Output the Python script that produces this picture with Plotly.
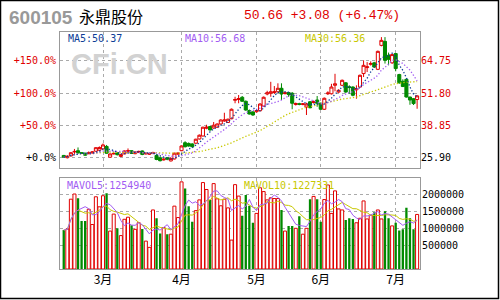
import plotly.graph_objects as go
import pandas as pd

# ---------------- data ----------------
month_labels = ['3月', '4月', '5月', '6月', '7月']
month_first_day = [11, 33, 54, 72, 93]   # trading-day index of first session of each month

open_p = [26.8, 25.9, 26.6, 28.2, 28.7, 27.9, 27.7, 27.5, 27.8, 28.5,
          28.9, 29.4, 30.4, 26.1, 27.4, 27.9, 26.4, 27.4, 28.5, 28.7,
          27.5, 28.0, 28.6, 27.4, 27.3, 27.6, 26.8, 25.9, 25.0, 25.9,
          24.6, 25.4, 27.3, 28.7, 31.9, 31.6, 31.4, 31.7, 33.4, 34.6,
          37.7, 38.4, 37.8, 38.1, 39.4, 40.6, 40.0, 41.5, 48.9, 49.2,
          50.1, 48.5, 44.8, 44.2, 44.3, 44.7, 46.6, 51.4, 51.7, 52.0,
          52.3, 53.7, 51.6, 52.0, 51.7, 47.2, 47.5, 47.2, 46.2, 48.3,
          48.0, 49.0, 47.7, 45.3, 51.5, 51.5, 54.9, 52.2, 54.9, 55.9,
          54.3, 54.2, 53.1, 54.2, 59.6, 62.0, 63.3, 63.9, 61.3, 70.9,
          72.5, 66.9, 63.9, 67.6, 59.2, 56.5, 57.3, 50.2, 49.5, 49.2]
high_p = [27.0, 26.9, 28.1, 29.4, 30.0, 28.1, 27.9, 28.4, 28.5, 30.1,
          30.4, 31.6, 31.0, 27.6, 28.2, 28.0, 27.4, 28.8, 29.6, 28.9,
          28.4, 28.7, 28.8, 27.9, 27.8, 28.3, 27.3, 26.3, 25.7, 26.1,
          26.0, 27.9, 28.0, 30.8, 32.5, 32.0, 31.7, 33.5, 35.2, 38.3,
          39.1, 38.6, 40.2, 39.6, 41.3, 43.9, 41.6, 45.6, 50.3, 51.0,
          50.6, 48.8, 45.2, 44.6, 45.2, 47.7, 50.4, 52.7, 56.3, 54.6,
          55.7, 55.7, 52.3, 52.3, 52.2, 48.0, 47.9, 47.8, 47.9, 48.6,
          48.8, 50.6, 48.0, 50.0, 52.5, 55.5, 59.5, 53.3, 57.2, 56.2,
          54.9, 54.5, 54.9, 59.2, 64.9, 64.2, 64.5, 64.3, 68.8, 74.2,
          74.2, 68.0, 67.5, 67.8, 59.5, 57.3, 57.5, 50.3, 49.8, 50.9]
low_p = [25.9, 25.6, 26.4, 27.4, 27.4, 27.4, 26.6, 27.3, 27.6, 28.3,
         28.6, 29.2, 27.5, 25.9, 27.2, 26.8, 26.2, 27.3, 27.7, 27.4,
         27.3, 27.8, 26.9, 27.2, 27.0, 27.3, 24.9, 24.4, 24.8, 24.9,
         24.4, 25.2, 27.1, 28.5, 30.0, 30.3, 30.0, 31.5, 33.2, 34.4,
         37.3, 36.8, 37.5, 37.9, 39.2, 40.3, 39.8, 41.3, 47.7, 47.7,
         48.3, 44.7, 43.2, 42.7, 44.0, 44.5, 46.4, 50.9, 50.3, 51.4,
         52.0, 49.0, 51.2, 50.3, 45.3, 46.8, 46.9, 46.9, 43.0, 45.7,
         47.6, 46.3, 45.0, 45.0, 51.0, 51.2, 52.5, 51.9, 54.6, 51.9,
         51.5, 50.5, 49.5, 54.0, 58.2, 60.2, 62.8, 61.9, 61.0, 70.5,
         63.6, 62.9, 63.5, 60.5, 55.5, 54.2, 50.0, 47.1, 47.0, 45.5]
close_p = [26.1, 26.5, 27.9, 28.4, 27.9, 27.7, 26.9, 27.8, 28.2, 29.9,
           30.0, 31.0, 27.7, 27.4, 27.6, 27.1, 27.2, 28.6, 28.7, 27.6,
           28.2, 28.4, 27.2, 27.7, 27.5, 27.9, 25.2, 24.7, 25.3, 25.3,
           25.6, 27.7, 27.7, 30.6, 30.3, 30.6, 30.3, 33.3, 34.9, 38.1,
           38.1, 37.0, 38.9, 39.4, 41.0, 41.0, 41.3, 45.3, 49.2, 49.6,
           48.5, 45.0, 43.4, 43.0, 44.7, 47.4, 50.1, 51.9, 52.3, 52.3,
           53.7, 51.4, 51.9, 51.2, 47.7, 47.6, 47.3, 47.5, 47.4, 45.9,
           48.4, 47.7, 45.3, 49.7, 51.8, 54.2, 55.5, 52.9, 56.9, 52.2,
           54.0, 50.9, 53.6, 58.9, 62.9, 62.3, 63.6, 62.2, 68.5, 72.9,
           64.9, 65.3, 67.2, 61.6, 55.9, 54.4, 50.2, 49.0, 47.58, 50.66]
volume = [960000, 990000, 1850000, 2000000, 1880000, 1220000, 1220000, 1560000, 1120000, 1920000,
          1630000, 1950000, 2020000, 930000, 1420000, 1010000, 800000, 1270000, 1330000, 1100000,
          980000, 1170000, 990000, 640000, 460000, 1540000, 1300000, 860000, 1030000, 840000,
          840000, 1650000, 1320000, 2350000, 2160000, 1650000, 1200000, 1520000, 1830000, 2330000,
          2130000, 1830000, 2300000, 1860000, 1660000, 1850000, 1600000, 670000, 2270000, 1940000,
          1370000, 1970000, 1660000, 1170000, 1440000, 2180000, 2070000, 1830000, 1890000, 1870000,
          1870000, 1540000, 930000, 1080000, 1080000, 1010000, 1360000, 840000, 1010000, 1850000,
          1930000, 1850000, 1200000, 1840000, 2260000, 1440000, 2090000, 1570000, 1540000, 1250000,
          1300000, 1280000, 1170000, 1300000, 1800000, 1280000, 1390000, 1470000, 1540000, 1280000,
          1500000, 1300000, 1080000, 1170000, 950000, 980000, 1600000, 1300000, 980000, 1410000]

price_ticks = [25.90, 38.85, 51.80, 64.75]
price_labels = ['25.90', '38.85', '51.80', '64.75']
pct_labels = ['+0.0%', '+50.0%', '+100.0%', '+150.0%']
vol_ticks = [500000, 1000000, 1500000, 2000000]
vol_labels = ['500000', '1000000', '1500000', '2000000']

stock_code = '600105'
stock_name = '永鼎股份'
quote_text = '50.66 +3.08 (+6.47%)'
ma_labels = ['MA5:50.37', 'MA10:56.68', 'MA30:56.36']
mavol_labels = ['MAVOL5:1254940', 'MAVOL10:1227331']

# ---------------- styling ----------------
RED = '#e00000'
GREEN = '#008a00'
C_MA5 = '#0c3c96'
C_MA10 = '#a25cf2'
C_MA30 = '#c8c800'
FRAME = '#999999'
GRID = '#aaaaaa'
MONO = 'DejaVu Sans Mono'

W, H = 500, 300
L, R, T, B = 60, 80, 32, 31
X0, X1 = L, W - R
Y0, Y1 = T, H - B


def px(x):
    return (x - X0) / (X1 - X0)


def py(y):
    return (Y1 - y) / (Y1 - Y0)


PRICE_RANGE = [21.89, 76.25]
VOL_FLOOR = -164500
VOL_RANGE = [VOL_FLOOR, 2453000]

days = list(range(len(close_p)))
cs = pd.Series(close_p)
vs = pd.Series(volume)
ma5 = cs.rolling(5, min_periods=1).mean()
ma10 = cs.rolling(10, min_periods=1).mean()
ma30 = cs.rolling(30, min_periods=1).mean()
mav5 = vs.rolling(5, min_periods=1).mean()
mav10 = vs.rolling(10, min_periods=1).mean()

up = [c >= o for o, c in zip(open_p, close_p)]
up_x = [d for d, u in zip(days, up) if u]
up_v = [v - VOL_FLOOR for v, u in zip(volume, up) if u]
dn_x = [d for d, u in zip(days, up) if not u]
dn_v = [v - VOL_FLOOR for v, u in zip(volume, up) if not u]

fig = go.Figure()

fig.add_trace(go.Candlestick(
    x=days, open=open_p, high=high_p, low=low_p, close=close_p,
    xaxis='x2', yaxis='y',
    increasing=dict(line=dict(color=RED, width=1), fillcolor='white'),
    decreasing=dict(line=dict(color=GREEN, width=1), fillcolor=GREEN),
    whiskerwidth=0, hoverinfo='skip'))

for ser, col in [(ma30, C_MA30), (ma10, C_MA10), (ma5, C_MA5)]:
    fig.add_trace(go.Scatter(x=days, y=ser, xaxis='x2', yaxis='y', mode='lines',
                             line=dict(color=col, width=1.3, dash='1.3px,2px'),
                             hoverinfo='skip'))

fig.add_trace(go.Bar(x=up_x, y=up_v, base=VOL_FLOOR, xaxis='x', yaxis='y2', width=0.85,
                     marker=dict(color='white', line=dict(color=RED, width=1)),
                     hoverinfo='skip'))
fig.add_trace(go.Bar(x=dn_x, y=dn_v, base=VOL_FLOOR, xaxis='x', yaxis='y2', width=0.65,
                     marker=dict(color=GREEN, line=dict(width=0)), hoverinfo='skip'))
fig.add_trace(go.Scatter(x=days, y=mav10, xaxis='x', yaxis='y2', mode='lines',
                         line=dict(color=C_MA30, width=1), hoverinfo='skip'))
fig.add_trace(go.Scatter(x=days, y=mav5, xaxis='x', yaxis='y2', mode='lines',
                         line=dict(color=C_MA10, width=1), hoverinfo='skip'))

xr = [-1.05, 99.81]
axis_common = dict(showline=True, mirror=True, linecolor=FRAME, linewidth=1,
                   zeroline=False, ticks='', fixedrange=True)

price_ticktext = [('<span style="color:#000000">%s</span>' % t) if i == 0 else t
                  for i, t in enumerate(price_labels)]
pct_ticktext = [('<span style="color:#000000">%s</span>' % t) if i == 0 else t
                for i, t in enumerate(pct_labels)]

fig.update_layout(
    width=W, height=H, margin=dict(l=L, r=R, t=T, b=B),
    paper_bgcolor='white', plot_bgcolor='white', showlegend=False,
    barmode='overlay', boxgap=0.1, boxgroupgap=0.05,
    xaxis=dict(domain=[0, 1], anchor='y2', range=xr, tickmode='array',
               tickvals=month_first_day, ticktext=month_labels,
               showgrid=True, gridcolor=GRID, griddash='dot', gridwidth=1,
               tickfont=dict(family='Noto Sans CJK SC', size=12, color='#000'),
               rangeslider=dict(visible=False), **axis_common),
    xaxis2=dict(domain=[0, 1], anchor='y', range=xr, tickmode='array',
                tickvals=month_first_day, showticklabels=False,
                showgrid=True, gridcolor=GRID, griddash='dot', gridwidth=1,
                rangeslider=dict(visible=False), **axis_common),
    yaxis=dict(domain=[py(167.7), 1], anchor='x2', side='right', range=PRICE_RANGE,
               tickmode='array', tickvals=price_ticks, ticktext=price_ticktext,
               showgrid=True, gridcolor=GRID, griddash='dot', gridwidth=1,
               ticklabelstandoff=-2,
               tickfont=dict(family=MONO, size=10, color=RED), **axis_common),
    yaxis3=dict(overlaying='y', anchor='x2', side='left', range=PRICE_RANGE,
                tickmode='array', tickvals=price_ticks, ticktext=pct_ticktext,
                showgrid=False, showline=False, zeroline=False, ticks='',
                ticklabelstandoff=3,
                tickfont=dict(family=MONO, size=10, color=RED)),
    yaxis2=dict(domain=[0, py(178.3)], anchor='x', side='right', range=VOL_RANGE,
                tickmode='array', tickvals=vol_ticks, ticktext=vol_labels,
                showgrid=True, gridcolor=GRID, griddash='dot', gridwidth=1,
                ticklabelstandoff=-1,
                tickfont=dict(family=MONO, size=10, color='#000'), **axis_common),
)

# invisible trace to activate the percentage axis
fig.add_trace(go.Scatter(x=[days[0]], y=[price_ticks[0]], xaxis='x2', yaxis='y3',
                         mode='markers', marker=dict(opacity=0), hoverinfo='skip'))

ann = []
ann.append(dict(text='<b>CFi.CN</b>', x=px(119.5), y=py(64), xref='paper', yref='paper',
                showarrow=False, xanchor='center', yanchor='middle',
                font=dict(family='Liberation Sans', size=29, color='#d2d2d2')))
ann.append(dict(text='<b>%s</b>' % stock_code, x=px(7), y=py(17), xref='paper', yref='paper',
                showarrow=False, xanchor='left', yanchor='middle',
                font=dict(family='Liberation Sans', size=19, color='#999999')))
ann.append(dict(text=stock_name, x=px(77), y=py(15.5), xref='paper', yref='paper',
                showarrow=False, xanchor='left', yanchor='middle',
                font=dict(family='Noto Sans CJK SC', size=16, color='#000')))
ann.append(dict(text=quote_text, x=px(242), y=py(15.5), xref='paper', yref='paper',
                showarrow=False, xanchor='left', yanchor='middle',
                font=dict(family='Liberation Mono', size=13, color=RED)))
for txt, xx, col in zip(ma_labels, [66, 183, 303], [C_MA5, C_MA10, C_MA30]):
    ann.append(dict(text=txt, x=px(xx), y=py(38.5), xref='paper', yref='paper',
                    showarrow=False, xanchor='left', yanchor='middle',
                    font=dict(family=MONO, size=10, color=col)))
for txt, xx, col in zip(mavol_labels, [65, 242], [C_MA10, C_MA30]):
    ann.append(dict(text=txt, x=px(xx), y=py(185.7), xref='paper', yref='paper',
                    showarrow=False, xanchor='left', yanchor='middle',
                    font=dict(family=MONO, size=10, color=col)))
fig.update_layout(annotations=ann)

fig.add_shape(type='rect', xref='paper', yref='paper',
              x0=px(0.5), x1=px(498.5), y0=py(0.5), y1=py(298.5),
              line=dict(color='#000', width=1.5), layer='above')

fig.write_html('out.html')
